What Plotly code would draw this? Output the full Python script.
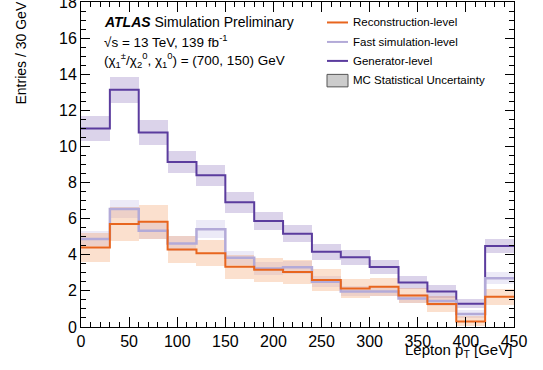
import plotly.graph_objects as go

# ---------------- data ----------------
bin_edges = [0, 30, 60, 90, 120, 150, 180, 210, 240, 270, 300, 330, 360, 390, 420, 450]
gen_vals = [11.0, 13.14, 10.77, 9.14, 8.40, 6.91, 5.87, 5.17, 4.17, 3.87, 3.33, 2.46, 1.96, 1.29, 4.48]
gen_err = [0.68, 0.73, 0.68, 0.60, 0.60, 0.58, 0.50, 0.47, 0.45, 0.42, 0.38, 0.37, 0.35, 0.25, 0.40]
reco_vals = [4.40, 5.70, 5.83, 4.29, 4.09, 3.34, 3.17, 3.05, 2.60, 2.13, 2.23, 1.75, 1.27, 0.31, 1.68]
reco_err = [0.80, 0.93, 0.95, 0.73, 0.72, 0.66, 0.65, 0.66, 0.59, 0.52, 0.50, 0.42, 0.44, 0.28, 0.44]
fast_vals = [4.88, 6.53, 5.33, 4.63, 5.41, 3.83, 3.24, 3.31, 2.50, 1.97, 1.97, 1.58, 1.44, 0.72, 2.70]
fast_err = [0.42, 0.50, 0.47, 0.43, 0.50, 0.37, 0.35, 0.35, 0.30, 0.28, 0.28, 0.26, 0.25, 0.20, 0.33]

x_ticks = [0, 50, 100, 150, 200, 250, 300, 350, 400, 450]
y_ticks = [0, 2, 4, 6, 8, 10, 12, 14, 16, 18]

legend_labels = ["Reconstruction-level", "Fast simulation-level", "Generator-level",
                 "MC Statistical Uncertainty"]

# ---------------- styles ----------------
C_GEN = "#5b3c9e"
C_FAST = "#b3aad8"
C_RECO = "#e8651e"
B_GEN = "rgba(110,80,170,0.25)"
B_FAST = "rgba(180,172,222,0.25)"
B_RECO = "rgba(240,130,60,0.25)"
FONT = "Liberation Sans, Arial, Helvetica, sans-serif"

W, H = 543, 370
L, R, T, B = 81, 514, 2, 327.5


def px(xp):
    return (xp - L) / (R - L)


def py(yp):
    return (B - yp) / (B - T)


centers = [(a + b) / 2 for a, b in zip(bin_edges[:-1], bin_edges[1:])]
widths = [b - a for a, b in zip(bin_edges[:-1], bin_edges[1:])]

fig = go.Figure()


def band(vals, errs, color):
    fig.add_trace(go.Bar(
        x=centers, y=[2 * e for e in errs], base=[v - e for v, e in zip(vals, errs)],
        width=widths, marker=dict(color=color, line=dict(width=0)),
        showlegend=False, hoverinfo="skip"))


def step(vals, color, w):
    fig.add_trace(go.Scatter(
        x=bin_edges, y=list(vals) + [vals[-1]], mode="lines",
        line=dict(color=color, width=w, shape="hv"), showlegend=False))


band(gen_vals, gen_err, B_GEN)
band(fast_vals, fast_err, B_FAST)
band(reco_vals, reco_err, B_RECO)
step(gen_vals, C_GEN, 2)
step(fast_vals, C_FAST, 2.5)
step(reco_vals, C_RECO, 2)

# ---------------- legend (manual) ----------------
leg_y = [22.5, 42, 61, 80.5]
leg_cols = [C_RECO, C_FAST, C_GEN]
shapes = []
for yy, c in zip(leg_y[:3], leg_cols):
    shapes.append(dict(type="line", xref="paper", yref="paper",
                       x0=px(327), x1=px(348), y0=py(yy), y1=py(yy),
                       line=dict(color=c, width=2)))
shapes.append(dict(type="rect", xref="paper", yref="paper",
                   x0=px(327), x1=px(348), y0=py(74.5), y1=py(87),
                   fillcolor="#cccccc", line=dict(color="#555555", width=1)))

annotations = []
for yy, lab in zip(leg_y, legend_labels):
    annotations.append(dict(x=px(351), y=py(yy), xref="paper", yref="paper",
                            text=lab, showarrow=False, xanchor="left", yanchor="middle",
                            font=dict(family=FONT, size=11.5, color="black")))

annotations += [
    dict(x=px(102), y=py(22), xref="paper", yref="paper", showarrow=False,
         xanchor="left", yanchor="middle",
         text="<b><i>ATLAS</i></b> Simulation Preliminary",
         font=dict(family=FONT, size=14, color="black")),
    dict(x=px(102), y=py(41), xref="paper", yref="paper", showarrow=False,
         xanchor="left", yanchor="middle",
         text="√s = 13 TeV, 139 fb<sup>-1</sup>",
         font=dict(family=FONT, size=13.5, color="black")),
    dict(x=px(102), y=py(60), xref="paper", yref="paper", showarrow=False,
         xanchor="left", yanchor="middle",
         text="(χ<sub>1</sub><sup>±</sup>/χ<sub>2</sub><sup>0</sup>, χ<sub>1</sub><sup>0</sup>) = (700, 150) GeV",
         font=dict(family=FONT, size=13.5, color="black")),
    dict(x=px(21), y=py(0), xref="paper", yref="paper", showarrow=False,
         xanchor="center", yanchor="top", textangle=-90,
         text="Entries / 30 GeV", font=dict(family=FONT, size=14, color="black")),
    dict(x=px(514), y=py(351), xref="paper", yref="paper", showarrow=False,
         xanchor="right", yanchor="middle",
         text="Lepton p<sub>T</sub> [GeV]", font=dict(family=FONT, size=15, color="black")),
]

axis_common = dict(showline=True, linecolor="black", linewidth=1, mirror="allticks",
                   ticks="inside", tickcolor="black", showgrid=False, zeroline=False,
                   automargin=False, ticklabeloverflow="allow",
                   tickfont=dict(family=FONT, size=16, color="black"))

fig.update_layout(
    width=W, height=H, margin=dict(l=L, r=W - R, t=T, b=H - B, pad=0, autoexpand=False),
    paper_bgcolor="white", plot_bgcolor="white",
    barmode="overlay", bargap=0, showlegend=False,
    shapes=shapes, annotations=annotations,
    xaxis=dict(range=[0, 450], tickvals=x_ticks, ticklen=10,
               minor=dict(ticks="inside", ticklen=5, dtick=10, tickcolor="black"),
               **axis_common),
    yaxis=dict(range=[0, 18], tickvals=y_ticks, ticklen=9,
               minor=dict(ticks="inside", ticklen=5, dtick=0.5, tickcolor="black"),
               **axis_common),
)

fig.write_html("out.html", config={"displayModeBar": False},
               post_script="document.body.style.margin='0';document.body.style.overflow='hidden';")
